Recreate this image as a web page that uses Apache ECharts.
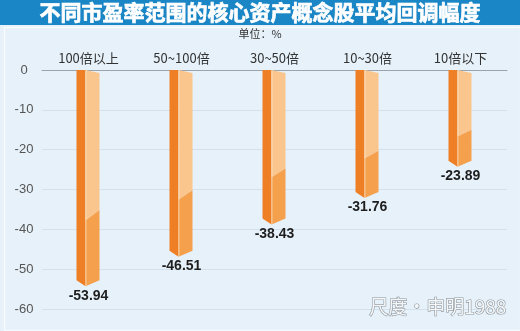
<!DOCTYPE html>
<html><head><meta charset="utf-8">
<script src="https://cdn.jsdelivr.net/npm/echarts@6/dist/echarts.min.js"></script>
<style>html,body{margin:0;padding:0;background:#e6f1f9}#c{width:520px;height:331px}</style>
</head><body><div id="c"></div>
<script>
const categories = ['100倍以上', '50~100倍', '30~50倍', '10~30倍', '10倍以下'];
const values = [-53.94, -46.51, -38.43, -31.76, -23.89];
const yTicks = { min: -60, max: 0, interval: 10 };
const titleText = '不同市盈率范围的核心资产概念股平均回调幅度';
const unitText = '单位：%';
const watermark = '尺度·申明1988';

const chart = echarts.init(document.getElementById('c'), null, { renderer: 'canvas' });
function renderItem(params, api) {
  const idx = api.value(0), v = api.value(1);
  const top = api.coord([idx, 0]);
  const bot = api.coord([idx, v]);
  const cx = top[0];
  const y0 = top[1], yv = bot[1];
  const h = yv - y0;
  const L = cx - 12, S = cx - 3, R = cx + 11;
  const tip = yv + 1.5, edge = yv - 4.5;
  const dSeam = y0 + h * 0.70;
  const dRight = dSeam - (4 + 0.03 * h);
  return {
    type: 'group',
    children: [
      { type: 'polygon', shape: { points: [[L, y0], [S, y0], [S, tip], [L, edge]] }, style: { fill: '#ee7f24' } },
      { type: 'polygon', shape: { points: [[S, y0], [R, y0 + 3], [R, dRight], [S, dSeam]] }, style: { fill: '#fbc68e' } },
      { type: 'polygon', shape: { points: [[S, dSeam], [R, dRight], [R, edge], [S, tip]] }, style: { fill: '#f4a04c' } },
      { type: 'line', shape: { x1: S + 0.5, y1: y0, x2: S + 0.5, y2: tip }, style: { stroke: 'rgba(255,235,210,0.55)', lineWidth: 1 } },
      { type: 'text', x: cx, y: yv + 4, style: { text: v.toFixed(2), fill: '#1e1e1e', font: 'bold 14px "Liberation Sans", Arial, sans-serif', align: 'center', verticalAlign: 'top' } }
    ]
  };
}
chart.setOption({
  backgroundColor: '#e6f1f9',
  animation: false,
  grid: { left: 42, right: 13, top: 70, bottom: 22 },
  graphic: [
    { type: 'rect', left: 0, top: 0, shape: { width: 520, height: 25 }, style: { fill: '#1b86c6' } },
    { type: 'text', left: 'center', top: 1, style: { text: titleText, fill: '#ffffff', stroke: '#ffffff', lineWidth: 0.7, font: 'bold 21px "Noto Sans CJK SC", sans-serif' } },
    { type: 'rect', left: 2, top: 25, shape: { width: 516, height: 303 }, style: { fill: 'none', stroke: 'rgba(255,255,255,0.7)', lineWidth: 1.5 } },
    { type: 'text', left: 'center', top: 28, style: { text: unitText, fill: '#333', font: '11px "Noto Sans CJK SC", sans-serif' } },
    { type: 'text', right: 13, top: 297, z: 10, style: { text: watermark, fill: '#f4f6f8', stroke: '#8f989f', lineWidth: 1.2, font: '19px "Noto Sans CJK SC", sans-serif' } }
  ],
  xAxis: {
    type: 'category', data: categories, position: 'top',
    axisLine: { show: true, lineStyle: { color: '#9aa4ad', width: 1 } },
    axisTick: { show: false },
    axisLabel: { color: '#333', fontSize: 13, margin: 5, fontFamily: '"Noto Sans CJK SC", sans-serif' },
    splitLine: { show: false }
  },
  yAxis: {
    type: 'value', min: yTicks.min, max: yTicks.max, interval: yTicks.interval,
    axisLine: { show: false }, axisTick: { show: false },
    axisLabel: { color: '#555', fontSize: 13, margin: 18, align: 'center', fontFamily: '"Liberation Sans", Arial, sans-serif' },
    splitLine: { lineStyle: { color: '#d3e1ec', width: 1 } }
  },
  series: [{
    type: 'custom', renderItem: renderItem,
    data: values.map((v, i) => [i, v]),
    encode: { x: 0, y: 1 }
  }]
});
</script></body></html>
